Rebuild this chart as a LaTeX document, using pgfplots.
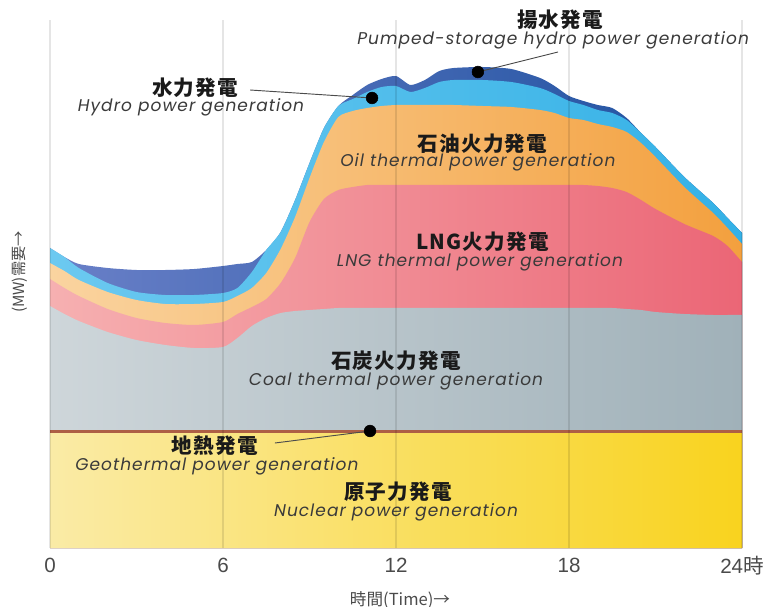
\documentclass[border=0pt]{standalone}
\usepackage{fontspec}
\usepackage{pgfplots}
\pgfplotsset{compat=1.18}
\usepackage{pgfplotstable}
\setmainfont{Liberation Sans}
\newfontfamily\jp{Noto Sans CJK JP}
\newfontfamily\jpw{Noto Sans CJK JP}[LetterSpace=6]
\newfontfamily\en{Poppins}[LetterSpace=6]

\definecolor{nucL}{HTML}{FAEBA6}
\definecolor{nucR}{HTML}{F9D31E}
\definecolor{geoC}{HTML}{AD5F45}
\definecolor{coalL}{HTML}{CED6DA}
\definecolor{coalR}{HTML}{A0B1B9}
\definecolor{lngL}{HTML}{F6B0B1}
\definecolor{lngR}{HTML}{EB6676}
\definecolor{oilL}{HTML}{FAD4A0}
\definecolor{oilR}{HTML}{F3A03E}
\definecolor{hydL}{HTML}{6CC9F0}
\definecolor{hydR}{HTML}{34B1E6}
\definecolor{pumL}{HTML}{6A80C8}
\definecolor{pumR}{HTML}{1B4F9E}
\definecolor{jptxt}{HTML}{1A1A1A}
\definecolor{entxt}{HTML}{3A3A3A}
\definecolor{ticktxt}{HTML}{4A4A4A}

\pgfplotstableread{
t    tot hyd oil lng coal geo nuc
0    300 300 285 269 242 118 115
0.5  291 291 277 260 234 118 115
1    284 280 268 252 227 118 115
2    280 265 256 239 216 118 115
3    278 256 248 230 208 118 115
4    278 253 244 225 203 118 115
5    279 253 244 223 200 118 115
6    282 255 246 226 201 118 115
6.5  284 260 252 234 210 118 115
7    286 276 260 241 222 118 115
7.5  298 298 275 249 230 118 115
8    316 316 299 265 235 118 115
8.5  348 348 331 290 237 118 115
9    385 385 370 326 238 118 115
9.5  420 420 406 349 239 118 115
10   442 442 431 358 240 118 115
10.5 453 449 437 361 240 118 115
11   463 456 440 363 240 118 115
11.5 469 461 442 363 240 118 115
12   472 462 443 363 240 118 115
12.5 463 456 443 363 240 118 115
13   468 460 443 363 240 118 115
13.5 477 466 443 363 240 118 115
14   480 468 443 363 240 118 115
15   481 468 442 363 240 118 115
16   479 466 441 363 240 118 115
17   470 460 438 363 240 118 115
17.5 462 454 435 363 240 118 115
18   452 447 430 363 240 118 115
18.5 447 443 428 363 240 118 115
19   443 438 424 362 240 118 115
19.5 440 435 421 360 240 118 115
20   430 428 416 356 239 118 115
20.5 415 415 405 348 238 118 115
21   401 401 391 339 236 118 115
22   371 371 361 324 234 118 115
23   345 345 335 312 233 118 115
23.5 330 330 320 302 233 118 115
24   315 315 304 286 233 118 115
}\data

\begin{document}
\begin{tikzpicture}
\useasboundingbox (-37.5bp,-44.25bp) rectangle (538.5bp,411bp);
\begin{axis}[
  at={(0,0)}, anchor=south west,
  scale only axis, width=519bp, height=396bp,
  xmin=0, xmax=24, ymin=0, ymax=528,
  clip=false,
  axis on top,
  axis line style={draw=none},
  ytick=\empty,
  xtick={0,6,12,18,24},
  xticklabels={0,6,12,18,24{\jp 時}},
  major tick length=0pt,
  xmajorgrids,
  grid style={black, opacity=0.1, line width=0.8bp},
  xticklabel style={anchor=center, yshift=-13bp, text=ticktxt, font=\fontsize{15.5}{15.5}\selectfont},
  /pgf/number format/assume math mode=true,
]
\addplot[draw=none, left color=pumL, right color=pumR, smooth, tension=0.4] table[x=t,y=tot]{\data} \closedcycle;
\addplot[draw=none, left color=hydL, right color=hydR, smooth, tension=0.4] table[x=t,y=hyd]{\data} \closedcycle;
\addplot[draw=none, left color=oilL, right color=oilR, smooth, tension=0.4] table[x=t,y=oil]{\data} \closedcycle;
\addplot[draw=none, left color=lngL, right color=lngR, smooth, tension=0.4] table[x=t,y=lng]{\data} \closedcycle;
\addplot[draw=none, left color=coalL, right color=coalR, smooth, tension=0.4] table[x=t,y=coal]{\data} \closedcycle;
\addplot[draw=none, fill=geoC] table[x=t,y=geo]{\data} \closedcycle;
\addplot[draw=none, left color=nucL, right color=nucR] table[x=t,y=nuc]{\data} \closedcycle;

% leader lines
\draw[black!70, line width=0.7bp] (axis cs:17.62,496) -- (axis cs:14.84,476);
\draw[black!70, line width=0.7bp] (axis cs:6.94,458) -- (axis cs:11.17,450);
\draw[black!70, line width=0.7bp] (axis cs:7.80,105) -- (axis cs:11.10,117);
\addplot[only marks, mark=*, mark size=4.4bp, black] coordinates {(14.84,476) (11.17,450) (11.10,117)};

% labels
\tikzset{jpl/.style={text=jptxt, font=\jpw\bfseries\fontsize{15.5}{15.5}\selectfont, inner sep=0pt},
         enl/.style={text=entxt, font=\en\itshape\fontsize{12.8}{12.8}\selectfont, inner sep=0pt}}
\node[jpl] at (axis cs:17.69,528) {揚水発電};
\node[enl] at (axis cs:17.45,508) {Pumped-storage hydro power generation};
\node[jpl] at (axis cs:5.03,460) {水力発電};
\node[enl] at (axis cs:4.89,441) {Hydro power generation};
\node[jpl] at (axis cs:15.0,404) {石油火力発電};
\node[enl] at (axis cs:14.84,386) {Oil thermal power generation};
\node[jpl] at (axis cs:15.0,306) {LNG火力発電};
\node[enl] at (axis cs:14.91,286) {LNG thermal power generation};
\node[jpl] at (axis cs:12.0,187) {石炭火力発電};
\node[enl] at (axis cs:12.0,167) {Coal thermal power generation};
\node[jpl] at (axis cs:5.72,102) {地熱発電};
\node[enl] at (axis cs:5.79,82) {Geothermal power generation};
\node[jpl] at (axis cs:12.07,56) {原子力発電};
\node[enl] at (axis cs:12.0,36) {Nuclear power generation};

% axis titles
\node[text=ticktxt, font=\jp\fontsize{12.5}{12.5}\selectfont, inner sep=0pt] at ([yshift=-39bp]axis cs:12.14,0) {時間(Time)→};
\node[text=ticktxt, font=\jp\fontsize{11.5}{11.5}\selectfont, inner sep=0pt, rotate=90] at ([xshift=-22.5bp]axis cs:0,276) {(MW)需要→};
\end{axis}
\end{tikzpicture}
\end{document}
